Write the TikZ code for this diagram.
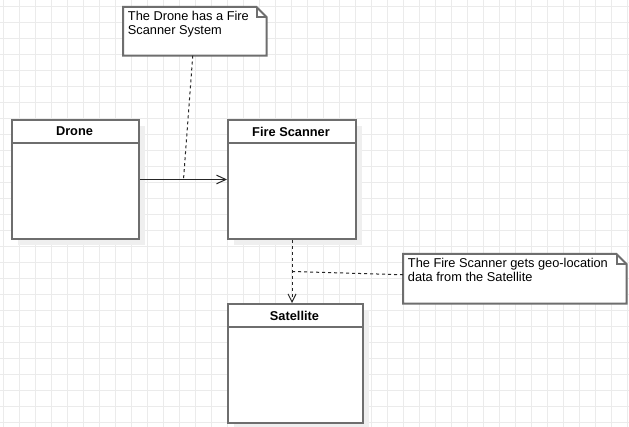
\documentclass[tikz,border=0pt]{standalone}
\usepackage{fontspec}
\setmainfont{Liberation Sans}
\usetikzlibrary{arrows.meta,calc}
\definecolor{umlgray}{HTML}{6E6E6E}
\definecolor{gridgray}{HTML}{EBEBEB}
\definecolor{shadowgray}{HTML}{EFEFEF}

\begin{document}
\begin{tikzpicture}[x=0.75pt, y=-0.75pt,
  gridline/.style={draw=gridgray, line width=0.75pt},
  classbox/.style={draw=umlgray, line width=1.5pt, fill=white, anchor=north west, inner sep=0pt, minimum height=89.25pt},
  classname/.style={font=\bfseries\fontsize{9.6}{10.5}\selectfont},
  notebox/.style={inner sep=0pt, anchor=north west},
  noteline/.style={draw=umlgray, line width=1.5pt, fill=white},
  notetext/.style={anchor=north west, align=left, inner xsep=3.5pt, inner ysep=3pt, font=\fontsize{9.6}{10.5}\selectfont},
  assoc/.style={draw=black!85, line width=0.75pt, -{Straight Barb[length=7pt,width=6.5pt]}},
  notelink/.style={draw=black!85, line width=0.75pt, dash pattern=on 2.25pt off 2.25pt},
  dep/.style={notelink, -{Straight Barb[length=6pt,width=6pt]}}]
  \useasboundingbox (0,0) rectangle (629,427);
  \fill[white] (0,0) rectangle (629,427);
  % background grid
  \foreach \gx in {3,19,...,627} \draw[gridline] (\gx,0) -- (\gx,427);
  \foreach \gy in {7,23,...,423} \draw[gridline] (0,\gy) -- (629,\gy);

  % classes
  \foreach \id/\name/\x/\y/\w in {drone/Drone/11/119/127, scanner/Fire Scanner/227/119/128, satellite/Satellite/227/303/135} {
    \fill[shadowgray] (\x+7,\y+7) rectangle ++(\w,119);
    \node[classbox, minimum width=\w*0.75pt] (\id) at (\x,\y) {};
    \node[classname] (\id-name) at (\x+\w/2,\y+12.5) {\name};
    \draw[umlgray, line width=1.5pt] (\x,\y+24.5) -- ++(\w,0);
  }

  % notes
  \node[notebox, minimum width=107.25pt, minimum height=36pt] (note1) at (123,7) {};
  \draw[noteline] (note1.north west) -- ([xshift=-7.5pt]note1.north east) -- ([yshift=-7.5pt]note1.north east) -- (note1.south east) -- (note1.south west) -- cycle;
  \draw[noteline, fill=none] ([xshift=-7.5pt]note1.north east) |- ([yshift=-7.5pt]note1.north east);
  \node[notetext] (note1-text) at (note1.north west) {The Drone has a Fire\\Scanner System};

  \node[notebox, minimum width=167.25pt, minimum height=36.75pt] (note2) at (403,254) {};
  \draw[noteline] (note2.north west) -- ([xshift=-7.5pt]note2.north east) -- ([yshift=-7.5pt]note2.north east) -- (note2.south east) -- (note2.south west) -- cycle;
  \draw[noteline, fill=none] ([xshift=-7.5pt]note2.north east) |- ([yshift=-7.5pt]note2.north east);
  \node[notetext] (note2-text) at (note2.north west) {The Fire Scanner gets geo-location\\data from the Satellite};

  % connectors
  \draw[assoc] (drone) -- (scanner);
  \coordinate (mid1) at ($(drone.east)!0.5!(scanner.west)$);
  \draw[notelink] ([xshift=-1.5pt]note1.south) -- (mid1);
  \draw[dep] (scanner.south) -- (scanner.south |- satellite.north);
  \coordinate (mid2) at ($(scanner.south)!0.5!(scanner.south |- satellite.north)$);
  \draw[notelink] ([yshift=3pt]note2.west) -- (mid2);
\end{tikzpicture}
\end{document}
